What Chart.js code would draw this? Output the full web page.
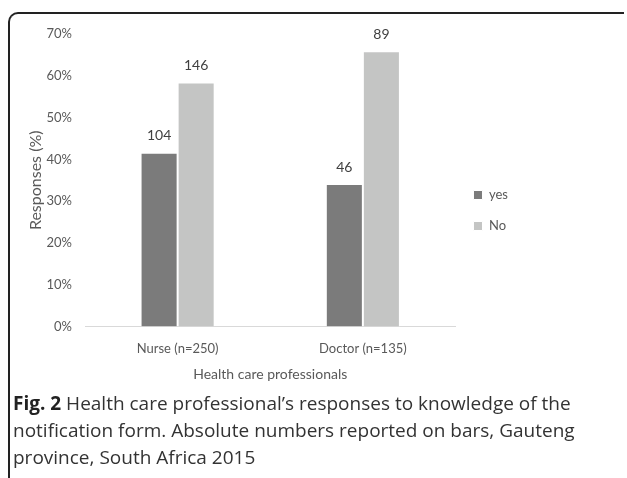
<!DOCTYPE html>
<html>
<head>
<meta charset="utf-8">
<script src="https://cdn.jsdelivr.net/npm/chart.js@4"></script>
<style>
  body { margin: 0; background: #fff; width: 627px; height: 478px; overflow: hidden; position: relative; }
  #frame { position: absolute; left: 8px; top: 12px; width: 614px; height: 480px;
    border-top: 2px solid #222; border-left: 2px solid #222; border-top-left-radius: 10px; }
  #wrap { position: absolute; left: 10px; top: 14px; width: 600px; height: 380px; }
  #caption { position: absolute; left: 13px; top: 390px; width: 600px;
    font-family: 'Open Sans', sans-serif; font-size: 19px; line-height: 27px; color: #333; }
  #caption b { color: #222; }
</style>
</head>
<body>
<div id="frame"></div>
<div id="wrap"><canvas id="chart"></canvas></div>
<div id="caption"><b>Fig. 2</b> Health care professional’s responses to knowledge of the notification form. Absolute numbers reported on bars, Gauteng province, South Africa 2015</div>
<script>
const categories = ['Nurse (n=250)', 'Doctor (n=135)'];
const yesPercent = [41.6, 34.1];
const noPercent = [58.4, 65.9];
const yesCount = [104, 46];
const noCount = [146, 89];

// draws the absolute numbers above each bar
const barNumbers = {
  id: 'barNumbers',
  afterDatasetsDraw(chart) {
    const ctx = chart.ctx;
    ctx.save();
    ctx.font = '14px Lato';
    ctx.fillStyle = '#404040';
    ctx.textAlign = 'center';
    ctx.textBaseline = 'middle';
    chart.data.datasets.forEach((ds, i) => {
      chart.getDatasetMeta(i).data.forEach((bar, j) => {
        ctx.fillText(ds.counts[j], bar.x, bar.y - 17);
      });
    });
    ctx.restore();
  },
};

const ctx = document.getElementById('chart').getContext('2d');
new Chart(ctx, {
  type: 'bar',
  data: {
    labels: categories,
    datasets: [
      {
        label: 'yes',
        data: yesPercent,
        counts: yesCount,
        backgroundColor: '#7b7b7b',
        borderColor: '#ffffff',
        borderWidth: 1,
      },
      {
        label: 'No',
        data: noPercent,
        counts: noCount,
        backgroundColor: '#c4c5c4',
        borderColor: '#ffffff',
        borderWidth: 1,
      },
    ],
  },
  options: {
    responsive: true,
    maintainAspectRatio: false,
    animation: false,
    categoryPercentage: 0.4,
    barPercentage: 1,
    layout: { padding: { top: 20, right: 92, bottom: 7, left: 12 } },
    plugins: {
      tooltip: { enabled: false },
      legend: {
        position: 'right',
        labels: {
          boxWidth: 9,
          boxHeight: 9,
          padding: 18,
          color: '#595959',
          font: { family: 'Lato', size: 13 },
        },
      },
    },
    scales: {
      x: {
        grid: { display: false },
        border: { display: true, color: '#d9d9d9', width: 1 },
        ticks: { color: '#595959', font: { family: 'Lato', size: 13 }, padding: 6 },
        title: {
          display: true,
          text: 'Health care professionals',
          color: '#595959',
          font: { family: 'Lato', size: 14 },
          padding: { top: 4 },
        },
      },
      y: {
        min: 0,
        max: 70,
        grid: { display: false },
        border: { display: false },
        afterFit: (scale) => { scale.width = 63; },
        ticks: {
          stepSize: 10,
          color: '#595959',
          font: { family: 'Lato', size: 13 },
          padding: 5,
          callback: (v) => v + '%',
        },
        title: {
          display: true,
          text: 'Responses (%)',
          color: '#595959',
          font: { family: 'Lato', size: 16 },
        },
      },
    },
  },
  plugins: [barNumbers],
});
</script>
</body>
</html>
